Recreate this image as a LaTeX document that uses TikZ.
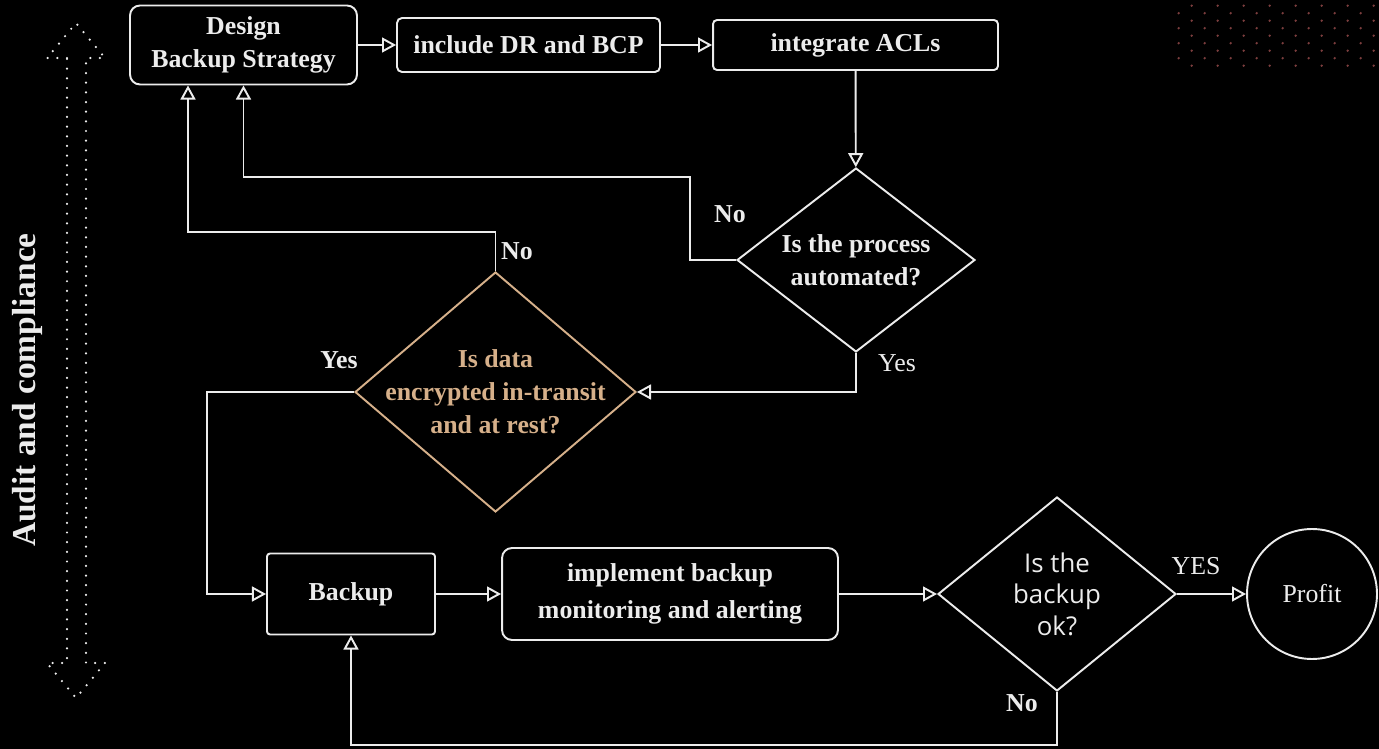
\documentclass[tikz,border=0pt]{standalone}
\usepackage{fontspec}
\setmainfont{Liberation Serif}
\newfontfamily\sansfont{Open Sans}
\usetikzlibrary{shapes.geometric,arrows.meta}

\definecolor{ink}{RGB}{236,236,236}
\definecolor{sand}{RGB}{214,176,138}
\definecolor{rust}{RGB}{125,62,62}

\begin{document}
\begin{tikzpicture}[x=0.02cm, y=-0.02cm,
    every node/.style={text=ink, align=center, font=\fontsize{14.7}{19}\selectfont\bfseries},
    box/.style={draw=ink, line width=1.1pt, inner sep=0pt},
    decision/.style={diamond, draw=ink, line width=1.1pt, inner sep=0pt},
    flow/.style={draw=ink, line width=1.1pt, -{Triangle[open,length=8pt,width=8.5pt]}},
    plain/.style={font=\fontsize{14.7}{19}\selectfont}
  ]
  \path[use as bounding box, fill=black] (0,0) rectangle (1379,749);

  % dot pattern, top right
  \foreach \r in {0,...,8}{
    \pgfmathsetmacro{\yy}{5.7+7.5*\r}
    \pgfmathsetmacro{\xs}{mod(\r,2)==0 ? 1191.7 : 1178.7}
    \foreach \c in {0,...,7}{
      \fill[rust] (\xs+26*\c,\yy) circle (0.75pt);
    }
  }

  % audit and compliance
  \draw[ink, line width=1.4pt, line cap=round, dash pattern=on 0pt off 5.5pt]
    (67,58) -- (47,58) -- (76,23) -- (105,58) -- (86,58) -- (86,663)
    -- (105,663) -- (76,698) -- (47,663) -- (67,663) -- cycle;
  \node[rotate=90, font=\fontsize{19}{22}\selectfont\bfseries] (audit) at (27,390) {Audit and compliance};

  % top row
  \node[box, rounded corners=0.2cm, minimum width=4.54cm, minimum height=1.58cm] (design) at (243.5,45)
    {Design\\Backup Strategy};
  \node[box, rounded corners=0.1cm, minimum width=5.26cm, minimum height=1.08cm] (dr) at (528.5,45)
    {include DR and BCP};
  \node[box, rounded corners=0.08cm, minimum width=5.7cm, minimum height=1cm] (acl) at (855.5,45)
    {integrate ACLs};

  % decisions
  \node[decision, minimum width=4.76cm, minimum height=3.68cm] (auto) at (856,260) {};
  \node (auto-txt) at (auto) {Is the process\\automated?};
  \node[decision, draw=sand, minimum width=5.62cm, minimum height=4.8cm] (enc) at (495.5,392) {};
  \node[text=sand, font=\fontsize{14.7}{18.8}\selectfont\bfseries] (enc-txt) at (enc)
    {Is data\\encrypted in-transit\\and at rest?};

  % bottom row
  \node[box, rounded corners=0.06cm, minimum width=3.36cm, minimum height=1.62cm] (backup) at (351,594)
    {Backup};
  \node[box, rounded corners=0.2cm, minimum width=6.72cm, minimum height=1.84cm,
    font=\fontsize{14.7}{21.5}\selectfont\bfseries] (monitor) at (670,594)
    {implement backup\\monitoring and alerting};
  \node[decision, minimum width=4.76cm, minimum height=3.88cm] (ok) at (1057,594) {};
  \node[font=\fontsize{14.7}{18}\selectfont\sansfont] (ok-txt) at (ok) {Is the\\backup\\ok?};
  \node[circle, draw=ink, line width=1.1pt, minimum size=2.6cm, plain] (profit) at (1312,594) {Profit};

  % connectors
  \draw[flow] (design) -- (dr);
  \draw[flow] (dr) -- (acl);
  \draw[flow] (acl) -- (auto);
  \draw[flow] (auto.west) -| (690,177) -| (design.south);
  \draw[flow] (auto.south) |- (enc.east);
  \coordinate (noA) at (188,232);
  \draw[flow] (enc.north) |- (noA) -- (noA |- design.south);
  \coordinate (yesB) at (207,392);
  \draw[flow] (enc.west) -- (yesB) |- (backup.west);
  \draw[flow] (backup) -- (monitor);
  \draw[flow] (monitor) -- (ok);
  \draw[flow] (ok) -- (profit);
  \coordinate (noC) at (1057,745);
  \draw[flow] (ok.south) -- (noC) -| (backup.south);

  % branch labels
  \node (auto-no) at (730,214) {No};
  \node[plain] (auto-yes) at (897,363) {Yes};
  \node (enc-no) at (517,251) {No};
  \node (enc-yes) at (339,360) {Yes};
  \node[plain] (ok-yes) at (1196,566) {YES};
  \node (ok-no) at (1022,703) {No};
\end{tikzpicture}
\end{document}
